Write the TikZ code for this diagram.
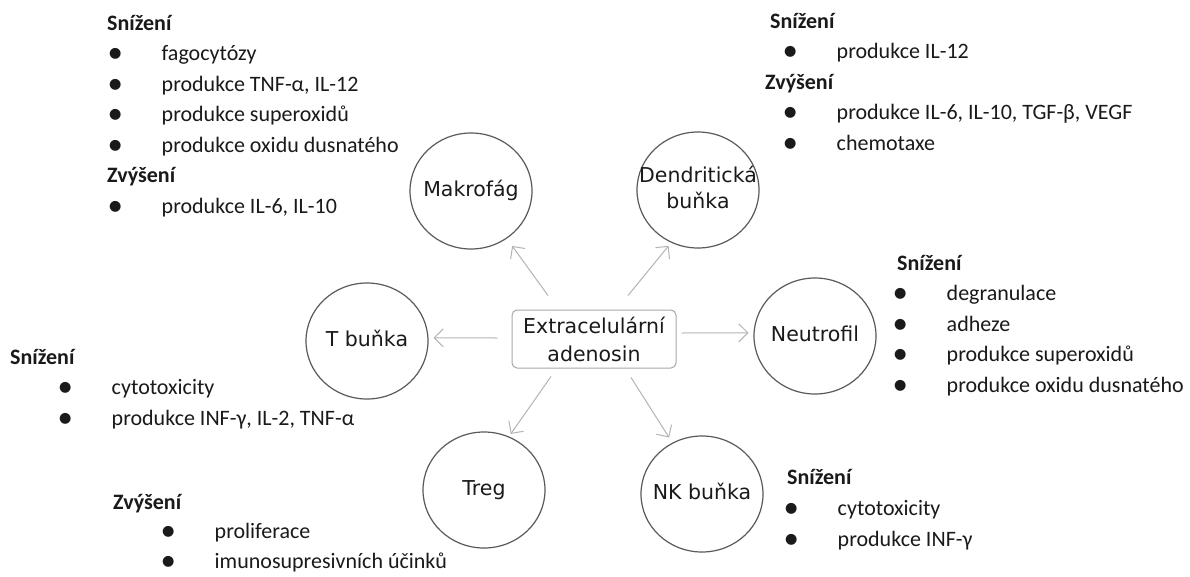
\documentclass[tikz,border=0pt]{standalone}
\usepackage{fontspec}
\usepackage{graphicx}
\setmainfont{Carlito}
\newfontfamily\cellfont{DejaVu Sans}
\usetikzlibrary{shapes.geometric,arrows.meta,calc}
\definecolor{cellline}{HTML}{5A5A5A}
\definecolor{hubline}{HTML}{A8A8A8}
\definecolor{arrline}{HTML}{B4B4B4}
\definecolor{txt}{HTML}{1A1A1A}
\newcommand\itm[2]{\hspace*{#1pt}\makebox[0pt]{\raisebox{-2pt}{\scalebox{1.4}{•}}}\hspace*{46.5pt}#2}
\newcommand\lbl[1]{\makebox[0pt]{\begin{tabular}{@{}c@{}}#1\end{tabular}}}
\begin{document}
\begin{tikzpicture}[x=1pt,y=-1pt,
  cell/.style={draw=cellline, line width=1.2pt, ellipse, minimum width=122pt, minimum height=116pt, inner sep=0pt, font=\cellfont\fontsize{20.5}{26}\selectfont, text=txt},
  hub/.style={draw=hubline, line width=1pt, rounded corners=5pt, minimum width=164pt, minimum height=58pt, inner sep=0pt, font=\cellfont\fontsize{20.5}{28}\selectfont, align=center, text=txt},
  arr/.style={draw=arrline, line width=1pt, -{Straight Barb[length=9pt,width=18pt]}},
  lst/.style={anchor=base west, inner sep=0pt, font=\fontsize{22}{30.5}\selectfont, text=txt}]
\useasboundingbox[fill=white] (0,0) rectangle (1190,576);

% central node and cells
\node[hub] (ado) at (594,339) {Extracelulární\\adenosin};
\node[cell] (mak) at (471,191) {\lbl{Makrofág}};
\node[cell] (den) at (698,190) {\lbl{Dendritická\\buňka}};
\node[cell] (tb) at (367,341) {\lbl{T buňka}};
\node[cell] (neu) at (815,336) {\lbl{Neutrofil}};
\node[cell] (treg) at (484,490) {\lbl{Treg}};
\node[cell] (nk) at (702,494) {\lbl{NK buňka}};

% arrow start points
\coordinate (s1) at ($(ado.north)+(-46,-14)$);
\coordinate (s2) at ($(ado.north)+(34,-14)$);
\coordinate (s3) at ($(ado.west)+(-14,-1)$);
\coordinate (s4) at ($(ado.east)+(5,-6)$);
\coordinate (s5) at ($(ado.south)+(-43,8)$);
\coordinate (s6) at ($(ado.south)+(37,9)$);

\draw[arr, shorten >=9pt] (s1) -- (mak.307);
\draw[arr, shorten >=4pt] (s2) -- (den.243);
\draw[arr, shorten >=5pt] (s3) -- (tb.3.5);
\draw[arr, shorten >=5pt] (s4) -- (neu.177);
\draw[arr, shorten >=3pt] (s5) -- (treg.65);
\draw[arr, shorten >=6pt] (s6) -- (nk.120);

% effect lists
\node[lst] (lmak) at (107,30) {\begin{tabular}[t]{@{}l@{}}
\textbf{Snížení}\\
\itm{8}{fagocytózy}\\
\itm{8}{produkce TNF-α, IL-12}\\
\itm{8}{produkce superoxidů}\\
\itm{8}{produkce oxidu dusnatého}\\
\textbf{Zvýšení}\\
\itm{8}{produkce IL-6, IL-10}
\end{tabular}};

\node[lst] (lden) at (765,28) {\begin{tabular}[t]{@{}l@{}}
\hspace*{5pt}\textbf{Snížení}\\
\itm{25}{produkce IL-12}\\
\textbf{Zvýšení}\\
\itm{25}{produkce IL-6, IL-10, TGF-β, VEGF}\\
\itm{25}{chemotaxe}
\end{tabular}};

\node[lst] (lneu) at (897,270) {\begin{tabular}[t]{@{}l@{}}
\textbf{Snížení}\\
\itm{3}{degranulace}\\
\itm{3}{adheze}\\
\itm{3}{produkce superoxidů}\\
\itm{3}{produkce oxidu dusnatého}
\end{tabular}};

\node[lst] (ltb) at (10,364) {\begin{tabular}[t]{@{}l@{}}
\textbf{Snížení}\\
\itm{55}{cytotoxicity}\\
\itm{55}{produkce INF-γ, IL-2, TNF-α}
\end{tabular}};

\node[lst, font=\fontsize{22}{29.5}\selectfont] (ltreg) at (113,509) {\begin{tabular}[t]{@{}l@{}}
\textbf{Zvýšení}\\
\itm{55}{proliferace}\\
\itm{55}{imunosupresivních účinků}
\end{tabular}};

\node[lst, font=\fontsize{22}{31}\selectfont] (lnk) at (787,484) {\begin{tabular}[t]{@{}l@{}}
\textbf{Snížení}\\
\itm{4}{cytotoxicity}\\
\itm{4}{produkce INF-γ}
\end{tabular}};
\end{tikzpicture}
\end{document}
